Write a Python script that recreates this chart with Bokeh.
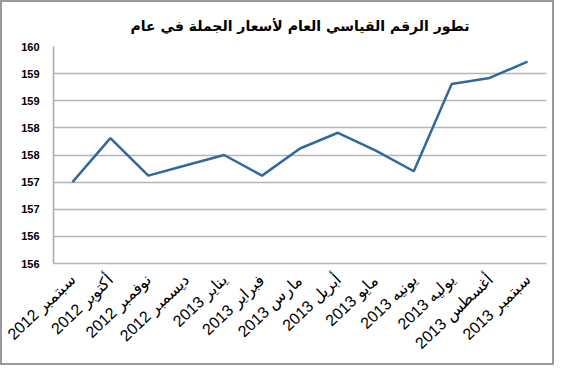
from bokeh.plotting import figure
from bokeh.models import FactorRange, Range1d, FixedTicker
from bokeh.embed import file_html
from bokeh.resources import INLINE

months = ["2012 سبتمبر", "2012 أكتوبر", "2012 نوفمبر", "2012 ديسمبر",
          "2013 يناير", "2013 فبراير", "2013 مارس", "2013 أبريل",
          "2013 مايو", "2013 يونيه", "2013 يوليه", "2013 أغسطس", "2013 سبتمبر"]
index_values = [157.0, 157.81, 157.12, 157.31, 157.50, 157.12, 157.62,
                157.91, 157.58, 157.20, 158.81, 158.92, 159.22]
y_ticks = [155.5, 156.0, 156.5, 157.0, 157.5, 158.0, 158.5, 159.0, 159.5]
y_tick_labels = ["156", "156", "157", "157", "158", "158", "159", "159", "160"]
title_text = "تطور الرقم القياسي العام لأسعار الجملة في عام"

p = figure(width=554, height=365, output_backend="svg", toolbar_location=None,
           x_range=FactorRange(*months, range_padding=0),
           y_range=Range1d(155.5, 159.5),
           min_border_left=51, min_border_right=10, min_border_top=44,
           min_border_bottom=104)
p.styles = {"border": "2px solid #9a9a9a", "box-sizing": "border-box"}

p.title.text = title_text
p.title.align = "center"
p.title.offset = -14
p.title.text_font = "DejaVu Sans"
p.title.text_font_size = "14px"
p.title.text_font_style = "bold"
p.title.text_color = "#000000"
p.title.standoff = 26

p.line(months, index_values, line_color="#31699d", line_width=2.5)

p.outline_line_color = None
p.xgrid.grid_line_color = None
p.ygrid.grid_line_color = "#b5b5b5"
p.ygrid.grid_line_width = 1.5

p.yaxis.ticker = FixedTicker(ticks=y_ticks)
p.yaxis.major_label_overrides = {t: l for t, l in zip(y_ticks, y_tick_labels)}
p.yaxis.major_label_text_font = "Liberation Sans"
p.yaxis.major_label_text_font_style = "bold"
p.yaxis.major_label_text_font_size = "11px"
p.yaxis.major_label_text_color = "#000000"
p.yaxis.axis_line_color = "#a8a8a8"
p.yaxis.axis_line_width = 1.5
p.yaxis.major_tick_line_color = None
p.yaxis.minor_tick_line_color = None
p.yaxis.major_label_standoff = 8

p.xaxis.axis_line_color = "#b5b5b5"
p.xaxis.axis_line_width = 1.5
p.xaxis.major_tick_line_color = None
p.xaxis.minor_tick_line_color = None
p.xaxis.major_label_orientation = 0.76
p.xaxis.major_label_text_font = "Liberation Sans"
p.xaxis.major_label_text_font_size = "16px"
p.xaxis.major_label_text_color = "#000000"
p.xaxis.major_label_standoff = 8

open("out.html", "w").write(file_html(p, INLINE))
